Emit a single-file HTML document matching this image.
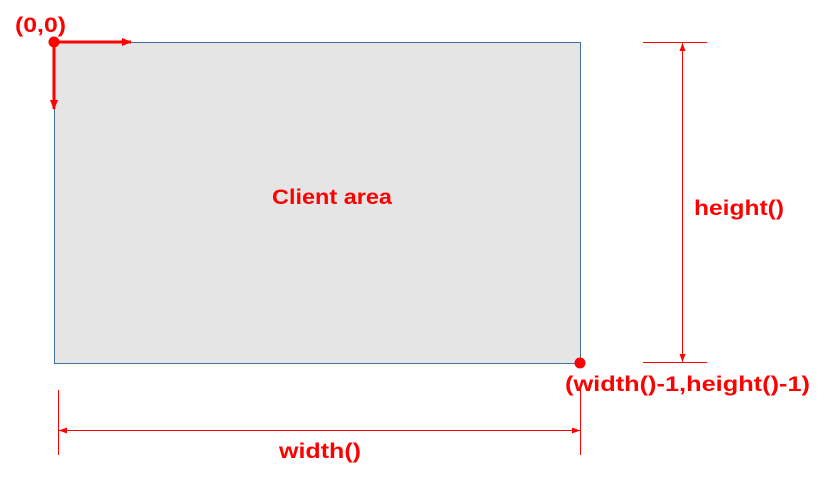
<!DOCTYPE html>
<html><head><style>html,body{margin:0;padding:0;background:#fff;}svg{display:block}</style></head>
<body>
<svg width="825" height="479" viewBox="0 0 825 479" xmlns="http://www.w3.org/2000/svg">
<defs>
<marker id="ab" markerWidth="10" markerHeight="10" refX="9" refY="5" orient="auto" markerUnits="userSpaceOnUse"><path d="M0,1 L10,5 L0,9 z" fill="red"/></marker>
<marker id="as" markerWidth="8" markerHeight="8" refX="8" refY="4" orient="auto-start-reverse" markerUnits="userSpaceOnUse"><path d="M0,1 L8,4 L0,7 z" fill="red"/></marker>
</defs>
<rect x="54.5" y="42.5" width="526" height="321" fill="#e5e5e5" stroke="#41719c" stroke-width="1"/>
<line x1="54" y1="42" x2="131" y2="42" stroke="red" stroke-width="3" marker-end="url(#ab)"/>
<line x1="54" y1="42" x2="54" y2="109" stroke="red" stroke-width="3" marker-end="url(#ab)"/>
<circle cx="54" cy="42" r="5.5" fill="red"/>
<circle cx="580" cy="363" r="5.5" fill="red"/>
<line x1="643" y1="42.5" x2="707" y2="42.5" stroke="red" stroke-width="1"/>
<line x1="643" y1="362.5" x2="707" y2="362.5" stroke="red" stroke-width="1"/>
<line x1="682.5" y1="43" x2="682.5" y2="362" stroke="red" stroke-width="1" marker-start="url(#as)" marker-end="url(#as)"/>
<line x1="58.5" y1="390" x2="58.5" y2="455" stroke="red" stroke-width="1"/>
<line x1="580.5" y1="390" x2="580.5" y2="455" stroke="red" stroke-width="1"/>
<line x1="59" y1="430.5" x2="580" y2="430.5" stroke="red" stroke-width="1" marker-start="url(#as)" marker-end="url(#as)"/>
<g fill="red" font-family="Liberation Sans, sans-serif" font-weight="bold" font-size="21">
<text x="15" y="32" textLength="51" lengthAdjust="spacingAndGlyphs">(0,0)</text>
<text x="272" y="204" textLength="120" lengthAdjust="spacingAndGlyphs">Client area</text>
<text x="694" y="215" textLength="90" lengthAdjust="spacingAndGlyphs">height()</text>
<text x="565" y="391" textLength="245" lengthAdjust="spacingAndGlyphs">(width()-1,height()-1)</text>
<text x="279" y="458" textLength="82" lengthAdjust="spacingAndGlyphs">width()</text>
</g>
</svg>
</body></html>
